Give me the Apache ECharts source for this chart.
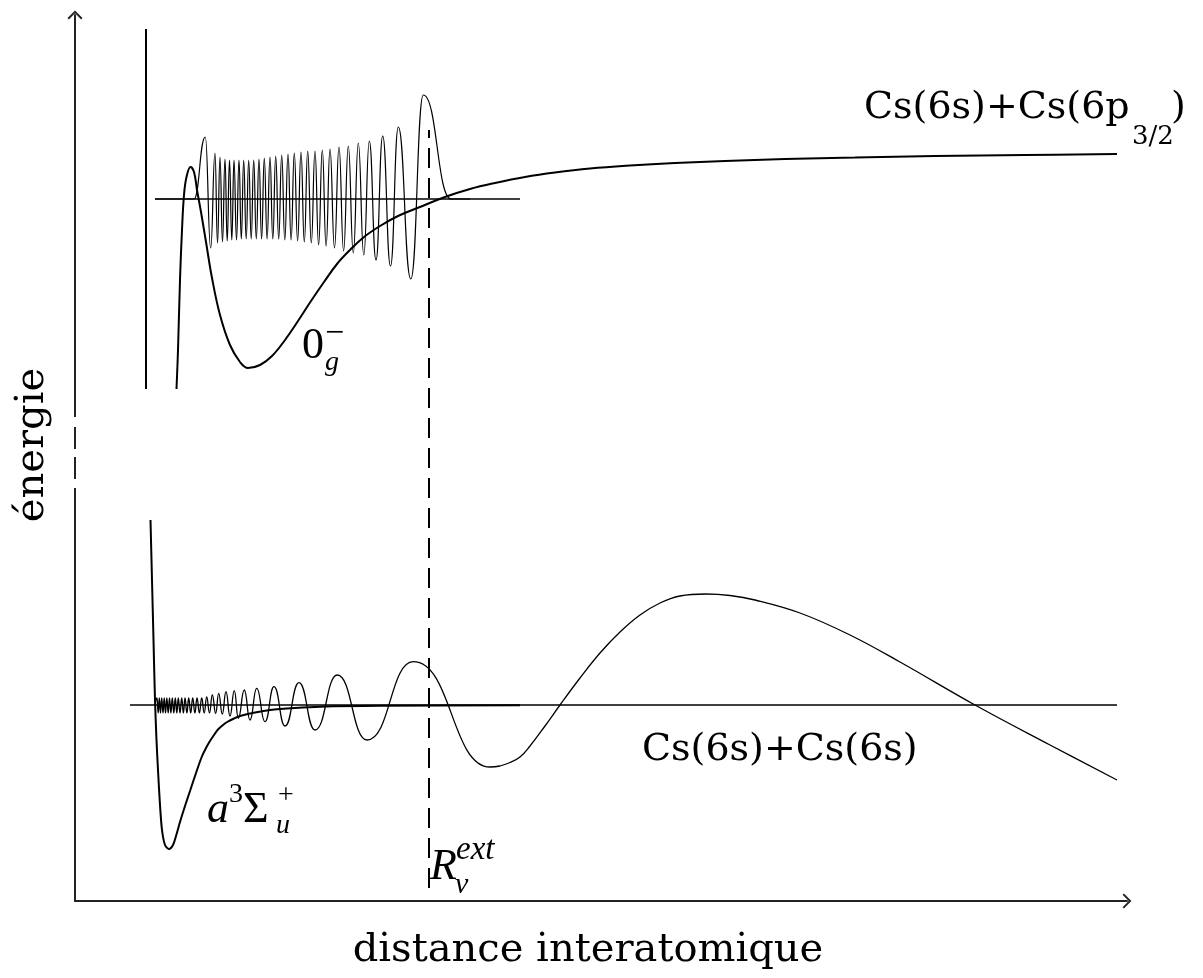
<!DOCTYPE html>
<html>
<head>
<meta charset="utf-8">
<script src="https://cdn.jsdelivr.net/npm/echarts@6/dist/echarts.min.js"></script>
<style>
  html, body { margin: 0; padding: 0; background: #fff; }
  #chart { width: 1203px; height: 978px; }
</style>
</head>
<body>
<div id="chart"></div>
<script>
// units: x = interatomic distance (arb.), y = energy (arb.)
const potential0g = [[101.5,512],[103,551],[105,621],[107,671],[109,706],[111.5,724],[115.5,734],[119,729],[122,711],[126,689],[131,659],[137,623],[145,586],[155,556],[165,539],
  [173,533],[185,536],[197,545],[210,561],[223,580],[236,600],[249,619],[262,637],[275,651],[289,664],[305,675],[323,685],[345,694],[370,704],[395,712],[420,718],[450,724],
  [480,728.5],[515,732.5],[555,735.5],[600,738],[650,740],[710,742],[780,743.5],[860,745],[950,746],[1042,747]];
const innerWall = [[71,872],[71,512]];
const upperLevel = [[80,702],[445,702]];
// extrema of the upper vibrational wavefunction
const upperWave = [[80,702],[119,702],[130.3,764],[135.7,653],
  [140,748],[142.5,658],[145,744],[147.5,659],[150,742],[152.2,660],[154.5,741],[156.8,661],
  [159,741],[161.5,661],[164,741],[166.3,662],[168.7,741],[171.2,662],[173.7,741],[176.2,662],
  [178.7,741],[181.3,662],[184,742],[186.6,662],[189.3,743],[192.1,662],[195,744],[197.8,662],
  [200.7,745],[203.7,662],[206.7,746],[209.8,661],[213,747],[216.1,661],[219.3,748],[222.6,660],
  [226,749],[229.3,659],[232.7,750],[236.3,658],[240,750],[243.6,656],[247.3,751],[251.1,655],
  [255,752],[259.5,653],[264,754],[268.6,650],[273.3,755],[278.3,648],[283.3,758],[288.8,646],
  [294.3,760],[301,641],[307.7,765],[315.5,635],[323.3,774],[335.8,622],[348.3,806],
  [376,702],[395,702]];

const potentialA3 = [[75.5,381],[77,321],[78.5,261],[80,201],[81.5,161],[83,131],[85,96],[87,71],[90,56],[94,52],[98,56],[101,65],[105,79],[110,95],[115,110],[121,128],
  [126.7,144],[131,153],[135,160],[139,166],[143,171.5],[148,176],[153,179.5],[159,182.5],[165,185],[180,188.5],[195,191],[220,193],[245,194.3],[305,195.2],[445,195.8]];
const lowerLevel = [[55,196],[1042,196]];
// extrema of the lower wavefunction, then its last (outer) lobe
const lowerWave = [[80,196],
  [82,203],[83.2,188],[84.3,203],[85.5,188],[86.7,203],[88,188],[89.2,203],[90.5,188],
  [91.8,203],[93.2,188],[94.5,203],[95.9,188],[97.3,203],[98.8,188],[100.3,203],[101.8,188],
  [103.3,203],[105,188],[106.7,203],[108.4,188],[110,203],[111.9,188],[113.7,203],[115.7,188],
  [117.7,203],[119.9,188],[122,203],[124.4,188],[126.7,203],[129.2,188],[131.7,204],[134.5,188],
  [137.3,206],[140.7,187.7],[143.7,207.7],[147.3,187],[151,209.3],[155,185],[159.3,210.3],[163.3,182.7],
  [169.3,211],[175,181],[181.7,212.7],[190,179.3],[199,214.3],[210,175],[224,218.3],[240,171],
  [262.3,226],[292,161],[338.3,239.3],[415,134],[425,135]];
const outerLobe = [[425,135],[435,138.5],[445,144],[455,155],[470,175],[485,196],[505,223],[525,248],[545,269],[565,286],[585,298],[605,305],[631,307],
  [655,305.5],[680,301],[725,288],[775,266],[825,239],[900,196],[975,156],[1042,121]];
const rvExt = [[354,13],[354,771]];
const axisGaps = [[474,484],[444,452],[413,422]];

const chart = echarts.init(document.getElementById('chart'));
const arrowPath = 'path://M0,0 L11,11 L9,13 L0,4 L-9,13 L-11,11 Z';
const serif = "'DejaVu Serif', serif";
const mathFont = "'Liberation Serif', serif";

const line = (name, data, width, extra) => Object.assign({
  name, type: 'line', data, showSymbol: false, symbol: 'none', smooth: false,
  lineStyle: { color: '#000', width }, z: 3
}, extra || {});

const txt = (text, x, y, size, extra) => ({
  type: 'text', x, y, z: 10,
  style: Object.assign({
    text, fill: '#000', font: size + 'px ' + serif, align: 'left', verticalAlign: 'middle'
  }, extra || {})
});

const axisCommon = {
  type: 'value',
  axisLine: {
    show: true, symbol: ['none', arrowPath], symbolSize: [15, 14],
    lineStyle: { color: '#222', width: 2 }
  },
  axisTick: { show: false },
  axisLabel: { show: false },
  splitLine: { show: false }
};

const series = [
  line('0g-', potential0g, 2, { smooth: 0.4 }),
  line('wall', innerWall, 2),
  line('upper level', upperLevel, 1.3),
  line('upper wave', upperWave, 1.2, { smooth: 0.5, smoothMonotone: 'x' }),
  line('a3Su+', potentialA3, 2, { smooth: 0.3 }),
  line('lower level', lowerLevel, 1.6),
  line('lower wave', lowerWave, 1.3, { smooth: 0.5, smoothMonotone: 'x' }),
  line('outer lobe', outerLobe, 1.3, { smooth: 0.4 }),
  line('Rv', rvExt, 2, { lineStyle: { color: '#000', width: 2, type: [20, 10] } })
];
axisGaps.forEach((g, i) => {
  series.push(line('gap' + i, [[0, g[0]], [0, g[1]]], 6, {
    clip: false, z: 5, lineStyle: { color: '#fff', width: 6 }
  }));
});

const option = {
  animation: false,
  backgroundColor: '#fff',
  grid: { left: 75, top: 15, width: 1052, height: 886 },
  xAxis: Object.assign({}, axisCommon, { min: 0, max: 1052 }),
  yAxis: Object.assign({}, axisCommon, { min: 0, max: 886 }),
  series,
  graphic: [
    txt('Cs(6s)+Cs(6p', 864, 108, 38),
    txt('3/2', 1132, 137, 26),
    txt(')', 1171, 108, 38),
    txt('Cs(6s)+Cs(6s)', 642, 750, 38),
    txt('distance interatomique', 588, 951, 40, { align: 'center' }),
    Object.assign(txt('énergie', 0, 0, 40, { align: 'center' }), { x: 33, y: 445, rotation: Math.PI / 2 }),
    txt('0', 302, 346, 44, { font: '44px ' + mathFont }),
    txt('g', 325, 363, 28, { font: 'italic 28px ' + mathFont }),
    txt('\u2212', 325, 334, 34, { font: '34px ' + mathFont }),
    txt('a', 207, 810, 44, { font: 'italic 44px ' + mathFont }),
    txt('3', 229, 795, 28, { font: '28px ' + mathFont }),
    txt('\u03A3', 243, 810, 44, { font: '44px ' + mathFont }),
    txt('u', 276, 826, 28, { font: 'italic 28px ' + mathFont }),
    txt('+', 278, 796, 28, { font: '28px ' + mathFont }),
    txt('R', 430, 867, 44, { font: 'italic 44px ' + mathFont }),
    txt('v', 455, 885, 30, { font: 'italic 30px ' + mathFont }),
    txt('ext', 456, 850, 33, { font: 'italic 33px ' + mathFont })
  ]
};

chart.setOption(option);
window.addEventListener('resize', () => chart.resize());
</script>
</body>
</html>
